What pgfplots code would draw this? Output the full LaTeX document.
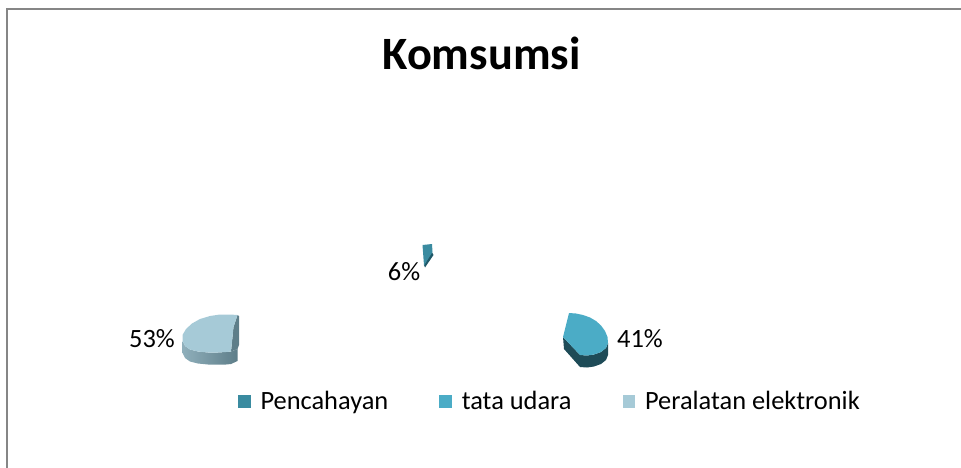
\documentclass[border=0pt]{standalone}
\usepackage{pgfplots}
\pgfplotsset{compat=1.18}
\usepackage{fontspec}
\setmainfont{Carlito}
\definecolor{cA}{HTML}{3A8BA0}
\definecolor{cAs}{HTML}{1F5868}
\definecolor{cB}{HTML}{4BACC6}
\definecolor{cBs}{HTML}{1E4B57}
\definecolor{cC}{HTML}{A6CAD7}
\definecolor{cCs}{HTML}{8FAFBB}
\definecolor{cCd}{HTML}{5E7E89}
\definecolor{frame}{HTML}{868686}
\begin{document}
\begin{tikzpicture}
\begin{axis}[
  at={(0,0)}, anchor=south west,
  scale only axis, width=961bp, height=468bp,
  xmin=0, xmax=961, ymin=0, ymax=468, y dir=reverse,
  hide axis, clip=false,
  legend columns=3,
  legend cell align=left,
  legend image code/.code={\fill[#1] (0bp,-6.25bp) rectangle (12.5bp,6.25bp);},
  legend style={draw=none, fill=none, at={(axis cs:238,401.5)}, anchor=west,
    inner sep=0pt, outer sep=0pt,
    font=\fontsize{26.5}{30}\selectfont,
    nodes={inner sep=0pt, outer sep=0pt},
    /tikz/every odd column/.append style={column sep=10bp},
    /tikz/every even column/.append style={column sep=51bp}},
]
% frame
\addplot[draw=frame, line width=1.5bp, forget plot] coordinates {(7,468) (7,9) (961,9)};
% slice 6% (Pencahayan)
\addplot[fill=cAs, draw=none, forget plot] coordinates {(431.5,251.5) (433.5,255) (425,267.5) (424,265)} -- cycle;
\addplot[fill=cA, draw=none, forget plot] coordinates {(422.5,245) (432,244) (432.5,252) (424,265.5)} -- cycle;
% slice 41% (tata udara)
\addplot[fill=cBs, draw=none, forget plot] coordinates {(563,337) (580,355) (587,355.5) (594,354.5) (601,352) (606,348) (608,343) (608,355) (606,360) (601,364) (594,366.5) (587,367.5) (580,367) (564,349)} -- cycle;
\addplot[fill=cB, draw=none, forget plot] coordinates {(563,337) (569,313) (576,313.5) (583,315) (590,317.5) (596,321) (601,325.5) (605,331) (607.5,337) (608,343) (606,348) (601,352) (594,354.5) (587,355.5) (580,355)} -- cycle;
% slice 53% (Peralatan elektronik)
\addplot[left color=cCs, right color=cCd, draw=none, forget plot] coordinates {(182.5,341) (185,346) (190,349.5) (198,351.5) (208,352.5) (218,352.5) (226,352) (231,351.5) (237.5,349) (237.5,361) (231,364) (226,364.5) (218,364.5) (208,364.5) (198,363.5) (190,361.5) (185,358) (182.5,353)} -- cycle;
\addplot[fill=cCd, draw=none, forget plot] coordinates {(237.5,315) (239,316) (239,345) (237.5,349) (231,351.5) (233.5,327)} -- cycle;
\addplot[fill=cC, draw=none, forget plot] coordinates {(237.5,315) (230,314.5) (220,314.5) (210,316) (200,319) (192,323.5) (186,329) (182.5,335) (182.5,341) (185,346) (190,349.5) (198,351.5) (208,352.5) (218,352.5) (226,352) (231,351.5) (233.5,327)} -- cycle;
% data labels
\node[font=\fontsize{26.5}{30}\selectfont, anchor=base] at (axis cs:404,280) {6\%};
\node[font=\fontsize{26.5}{30}\selectfont, anchor=base] at (axis cs:640,347) {41\%};
\node[font=\fontsize{26.5}{30}\selectfont, anchor=base] at (axis cs:152,347) {53\%};
% title
\node[font=\fontsize{46.5}{52}\selectfont\bfseries, anchor=base] at (axis cs:481.5,70) {Komsumsi};
% legend
\addlegendimage{fill=cA, draw=none}
\addlegendentry{Pencahayan}
\addlegendimage{fill=cB, draw=none}
\addlegendentry{tata udara}
\addlegendimage{fill=cC, draw=none}
\addlegendentry{Peralatan elektronik}
\end{axis}
\pgfresetboundingbox
\path[use as bounding box] (0,0) rectangle (961bp,468bp);
\end{tikzpicture}
\end{document}
